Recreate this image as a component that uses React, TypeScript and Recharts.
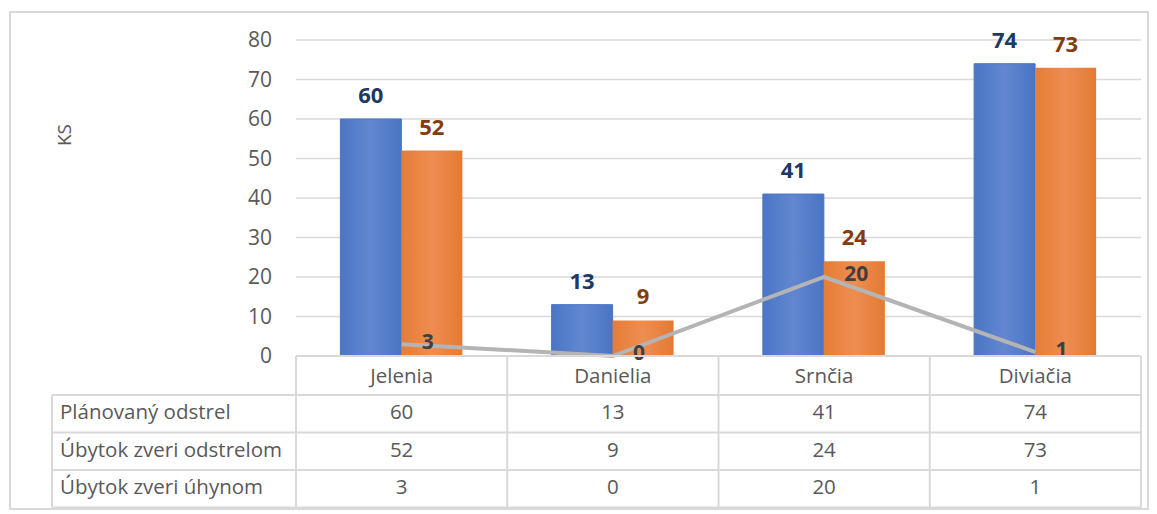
import React from "react";
import { Bar, CartesianGrid, ComposedChart, LabelList, Line, XAxis, YAxis } from "recharts";

const categories = ["Jelenia", "Danielia", "Srnčia", "Diviačia"];
const planned = [60, 13, 41, 74];
const shot = [52, 9, 24, 73];
const died = [3, 0, 20, 1];
const seriesNames = ["Plánovaný odstrel", "Úbytok zveri odstrelom", "Úbytok zveri úhynom"];
const yTicks = [0, 10, 20, 30, 40, 50, 60, 70, 80];

const data = categories.map((name, i) => ({
    name,
    planned: planned[i],
    shot: shot[i],
    died: died[i],
}));

const font = "'Open Sans', sans-serif";
const gridColor = "#d9d9d9";
const textColor = "#595959";

// table geometry (wrapper coords)
const tableLeft = 44;
const plotLeft = 288;
const plotRight = 1133;
const tableTop = 348;
const headerH = 39;
const rowH = 37.5;

function DataTable() {
    const colW = (plotRight - plotLeft) / categories.length;
    const rows = [planned, shot, died];
    const bottom = tableTop + headerH + rowH * rows.length;
    return (
        <svg width={1149} height={506} style={{ position: "absolute", left: 0, top: 0, pointerEvents: "none" }}>
            <g stroke={gridColor} strokeWidth={2}>
                <line x1={plotLeft} x2={plotRight} y1={tableTop} y2={tableTop} />
                {rows.map((_, r) => {
                    const y = tableTop + headerH + rowH * r;
                    return <line key={r} x1={tableLeft} x2={plotRight} y1={y} y2={y} />;
                })}
                <line x1={tableLeft} x2={plotRight} y1={bottom} y2={bottom} />
                <line x1={tableLeft} x2={tableLeft} y1={tableTop + headerH} y2={bottom} />
                {categories.map((_, i) => (
                    <line key={i} x1={plotLeft + colW * i} x2={plotLeft + colW * i} y1={tableTop} y2={bottom} />
                ))}
                <line x1={plotRight} x2={plotRight} y1={tableTop} y2={bottom} />
            </g>
            <g fontFamily={font} fontSize={20.5} fill={textColor}>
                {categories.map((c, i) => (
                    <text key={c} x={plotLeft + colW * (i + 0.5)} y={tableTop + headerH / 2 + 2} textAnchor="middle" dominantBaseline="middle">
                        {c}
                    </text>
                ))}
                {rows.map((vals, r) => {
                    const cy = tableTop + headerH + rowH * (r + 0.5);
                    return (
                        <g key={r}>
                            <text x={tableLeft + 8} y={cy} dominantBaseline="middle">{seriesNames[r]}</text>
                            {vals.map((v, i) => (
                                <text key={i} x={plotLeft + colW * (i + 0.5)} y={cy} textAnchor="middle" dominantBaseline="middle">
                                    {v}
                                </text>
                            ))}
                        </g>
                    );
                })}
            </g>
            <text x={58} y={127} transform="rotate(-90 58 127)" fontFamily={font} fontSize={19} fill={textColor} textAnchor="middle" dominantBaseline="middle">
                KS
            </text>
        </svg>
    );
}

export default function App() {
    return (
        <div style={{ position: "relative", width: 1149, height: 506 }}>
            <div style={{ position: "absolute", left: 1, top: 3, width: 1140, height: 499, border: `2px solid ${gridColor}`, boxSizing: "border-box" }} />
            <div style={{ position: "absolute", left: 0, top: 0 }}>
                <ComposedChart
                    width={1141}
                    height={370}
                    data={data}
                    margin={{ top: 32, right: 8, bottom: 22, left: 228 }}
                    barCategoryGap="21%"
                    barGap={0}
                >
                    <defs>
                        <linearGradient id="gBlue" x1="0" y1="0" x2="1" y2="0">
                            <stop offset="0%" stopColor="#4a76c6" />
                            <stop offset="50%" stopColor="#6287cf" />
                            <stop offset="100%" stopColor="#4a74c4" />
                        </linearGradient>
                        <linearGradient id="gOrange" x1="0" y1="0" x2="1" y2="0">
                            <stop offset="0%" stopColor="#e67c36" />
                            <stop offset="50%" stopColor="#ee8d52" />
                            <stop offset="100%" stopColor="#e47a33" />
                        </linearGradient>
                    </defs>
                    <CartesianGrid vertical={false} stroke={gridColor} strokeWidth={1.5} />
                    <XAxis dataKey="name" hide />
                    <YAxis
                        width={60}
                        domain={[0, 80]}
                        ticks={yTicks}
                        axisLine={false}
                        tickLine={false}
                        tickSize={0}
                        tickMargin={24}
                        tick={{ fontFamily: font, fontSize: 21, fill: textColor }}
                    />
                    <Bar dataKey="planned" fill="url(#gBlue)" stroke="#4a74c4" strokeWidth={1} isAnimationActive={false}>
                        <LabelList dataKey="planned" position="top" offset={16} fontFamily={font} fontSize={22} fontWeight="bold" fill="#203864" />
                    </Bar>
                    <Bar dataKey="shot" fill="url(#gOrange)" isAnimationActive={false}>
                        <LabelList dataKey="shot" position="top" offset={16} fontFamily={font} fontSize={22} fontWeight="bold" fill="#843c0c" />
                    </Bar>
                    <Line dataKey="died" stroke="#b4b4b4" strokeWidth={4} dot={false} activeDot={false} isAnimationActive={false}>
                        <LabelList dataKey="died" position="right" offset={20} dy={-3} fontFamily={font} fontSize={21} fontWeight="bold" fill="#404040" />
                    </Line>
                </ComposedChart>
            </div>
            <DataTable />
        </div>
    );
}
